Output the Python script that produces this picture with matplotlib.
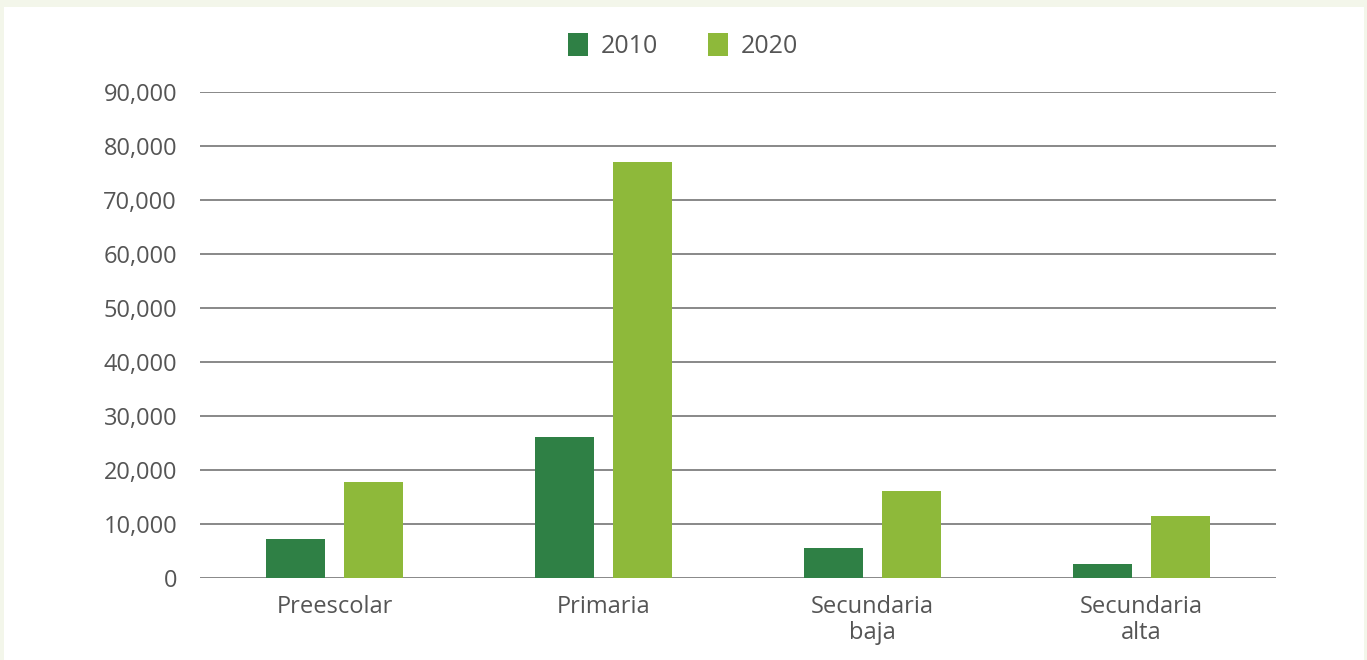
#!/usr/bin/env python3
"""Matrícula por nivel educativo, 2010 vs 2020 (grouped bars)."""
import matplotlib
matplotlib.use("Agg")
import matplotlib.pyplot as plt
from matplotlib.patches import Rectangle
import numpy as np

CATEGORIES = ["Preescolar", "Primaria", "Secundaria\nbaja", "Secundaria\nalta"]
SERIES_LABELS = ["2010", "2020"]
VALUES_2010 = [7200, 26200, 5500, 2600]
VALUES_2020 = [17800, 77000, 16100, 11500]
Y_TICKS = [0, 10000, 20000, 30000, 40000, 50000, 60000, 70000, 80000, 90000]

COLORS = ["#2f8045", "#8eb93a"]
TEXT_COLOR = "#555555"
GRID_COLOR = "#7f7f7f"
FRAME_COLOR = "#f3f6ea"

plt.rcParams["font.family"] = ["Open Sans", "DejaVu Sans"]

fig = plt.figure(figsize=(13.67, 6.6), dpi=100, facecolor=FRAME_COLOR)
# white panel inside the pale frame
fig.patches.append(
    Rectangle((4 / 1367, 0), (1364 - 4) / 1367, (660 - 7) / 660,
              transform=fig.transFigure, facecolor="white", edgecolor="none", zorder=-1)
)

ax = fig.add_axes([200 / 1367, 82 / 660, 1076 / 1367, 486 / 660])
ax.set_facecolor("none")

x = np.arange(len(CATEGORIES))
width = 0.223
offset = 0.145
b1 = ax.bar(x - offset, VALUES_2010, width, color=COLORS[0], label=SERIES_LABELS[0], zorder=3)
b2 = ax.bar(x + offset, VALUES_2020, width, color=COLORS[1], label=SERIES_LABELS[1], zorder=3)

ax.set_xlim(-0.5, len(CATEGORIES) - 0.5)
ax.set_ylim(0, 90000)
ax.set_yticks(Y_TICKS)
ax.set_yticklabels([f"{v:,}" for v in Y_TICKS])
ax.set_xticks(x)
ax.set_xticklabels(CATEGORIES, linespacing=1.15)

ax.yaxis.grid(True, color=GRID_COLOR, linewidth=1.3, zorder=1)
ax.set_axisbelow(True)
for s in ax.spines.values():
    s.set_visible(False)
ax.tick_params(axis="both", length=0, colors=TEXT_COLOR, labelsize=17)
ax.tick_params(axis="y", pad=16.5)
ax.tick_params(axis="x", pad=12)

fig.legend(
    handles=[b1, b2],
    labels=SERIES_LABELS,
    loc="center",
    bbox_to_anchor=(683 / 1367, 1 - 46 / 660),
    ncol=2,
    frameon=False,
    fontsize=18,
    handlelength=0.8,
    handleheight=1.0,
    handletextpad=0.5,
    columnspacing=2.0,
    labelcolor=TEXT_COLOR,
)

fig.savefig("out.png", dpi=100, facecolor=FRAME_COLOR)
